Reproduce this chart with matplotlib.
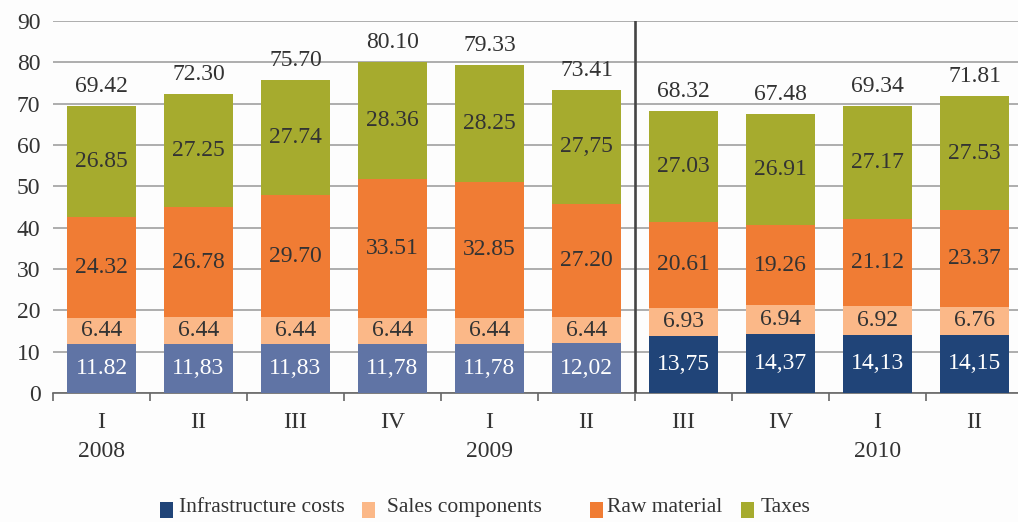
import matplotlib
matplotlib.use("Agg")
import matplotlib.pyplot as plt
from matplotlib.patches import Rectangle
from matplotlib.transforms import blended_transform_factory

# Quarterly cost structure, 2008 Q1 - 2010 Q2
quarters = ["I", "II", "III", "IV", "I", "II", "III", "IV", "I", "II"]
years = {0: "2008", 4: "2009", 8: "2010"}

infrastructure = [11.82, 11.83, 11.83, 11.78, 11.78, 12.02, 13.75, 14.37, 14.13, 14.15]
sales = [6.44, 6.44, 6.44, 6.44, 6.44, 6.44, 6.93, 6.94, 6.92, 6.76]
raw_material = [24.32, 26.78, 29.70, 33.51, 32.85, 27.20, 20.61, 19.26, 21.12, 23.37]
taxes = [26.85, 27.25, 27.74, 28.36, 28.25, 27.75, 27.03, 26.91, 27.17, 27.53]
totals = [69.42, 72.30, 75.70, 80.10, 79.33, 73.41, 68.32, 67.48, 69.34, 71.81]

# decimal separator used in the printed labels
infra_sep = [".", ",", ",", ",", ",", ",", ",", ",", ",", ","]
taxes_sep = [".", ".", ".", ".", ".", ",", ".", ".", ".", "."]

series_names = ["Infrastructure costs", "Sales components", "Raw material", "Taxes"]

FONT = "Liberation Serif"
plt.rcParams["font.family"] = [FONT, "DejaVu Serif"]

TXT = "#333333"
C_INFRA_OLD = "#6074a5"
C_INFRA_NEW = "#204478"
C_SALES = "#fbb888"
C_RAW = "#f07c34"
C_TAX = "#a6ab2e"
BG = "#fdfdfd"

W, H = 1018, 522
fig = plt.figure(figsize=(W / 100, H / 100), dpi=100, facecolor=BG)
ax = fig.add_axes([53 / W, 129 / H, 970 / W, 372 / H])
ax.set_facecolor(BG)

x = list(range(len(quarters)))
w = 0.72
split = 6  # first quarter of the later period
infra_colors = [C_INFRA_OLD if i < split else C_INFRA_NEW for i in x]

b1 = [0] * len(x)
b2 = [a for a in infrastructure]
b3 = [a + b for a, b in zip(infrastructure, sales)]
b4 = [a + b + c for a, b, c in zip(infrastructure, sales, raw_material)]

ax.bar(x, infrastructure, w, bottom=b1, color=infra_colors, zorder=3)
ax.bar(x, sales, w, bottom=b2, color=C_SALES, zorder=3)
ax.bar(x, raw_material, w, bottom=b3, color=C_RAW, zorder=3)
ax.bar(x, taxes, w, bottom=b4, color=C_TAX, zorder=3)

fs = 17


def fmt(v, sep):
    return f"{v:.2f}".replace(".", sep)


for i in x:
    ax.text(i, b1[i] + infrastructure[i] / 2, fmt(infrastructure[i], infra_sep[i]),
            ha="center", va="center", color="white", fontsize=fs, zorder=4)
    ax.text(i, b2[i] + sales[i] / 2, fmt(sales[i], "."),
            ha="center", va="center", color=TXT, fontsize=fs, zorder=4)
    ax.text(i, b3[i] + raw_material[i] / 2, fmt(raw_material[i], "."),
            ha="center", va="center", color=TXT, fontsize=fs, zorder=4)
    ax.text(i, b4[i] + taxes[i] / 2, fmt(taxes[i], taxes_sep[i]),
            ha="center", va="center", color=TXT, fontsize=fs, zorder=4)
    ax.annotate(fmt(totals[i], "."), (i, b4[i] + taxes[i]), xytext=(0, 14),
                textcoords="offset points", ha="center", va="center",
                color=TXT, fontsize=fs, zorder=4)

ax.set_xlim(-0.5, len(x) - 0.5)
ax.set_ylim(0, 90)
ax.set_yticks(range(0, 91, 10))
ax.tick_params(axis="y", length=0, pad=9, labelsize=fs, labelcolor=TXT)
ax.yaxis.grid(True, color="#a0a0a0", linewidth=1.2, zorder=0)
ax.set_axisbelow(True)

# category boundaries as ticks, labels placed manually
ax.set_xticks([i - 0.5 for i in range(len(x) + 1)])
ax.set_xticklabels([])
ax.tick_params(axis="x", length=6, width=1.2, color="#666666", direction="out")

for s in ["top", "right", "left"]:
    ax.spines[s].set_visible(False)
ax.spines["bottom"].set_color("#666666")
ax.spines["bottom"].set_linewidth(1.2)

tr = blended_transform_factory(ax.transData, ax.transAxes)
for i, q in enumerate(quarters):
    ax.annotate(q, (i, 0), xycoords=tr, xytext=(0, -21), textcoords="offset points",
                ha="center", va="center", color=TXT, fontsize=fs, annotation_clip=False)
for i, yr in years.items():
    ax.annotate(yr, (i, 0), xycoords=tr, xytext=(0, -42), textcoords="offset points",
                ha="center", va="center", color=TXT, fontsize=fs, annotation_clip=False)

# divider between the two periods
ax.axvline(split - 0.5, color="#444444", linewidth=1.9, zorder=5)

# legend row
legend_colors = [C_INFRA_NEW, C_SALES, C_RAW, C_TAX]
swatch_x = [160, 362, 590, 741]
text_x = [179, 387, 607, 761]
for name, col, sx, tx in zip(series_names, legend_colors, swatch_x, text_x):
    fig.patches.append(Rectangle((sx / W, 4 / H), 13 / W, 16 / H, transform=fig.transFigure,
                                 facecolor=col, edgecolor="none"))
    fig.text(tx / W, 10 / H, name, ha="left", va="baseline", color=TXT, fontsize=15.5)

fig.savefig("out.png", dpi=100, facecolor=fig.get_facecolor())
